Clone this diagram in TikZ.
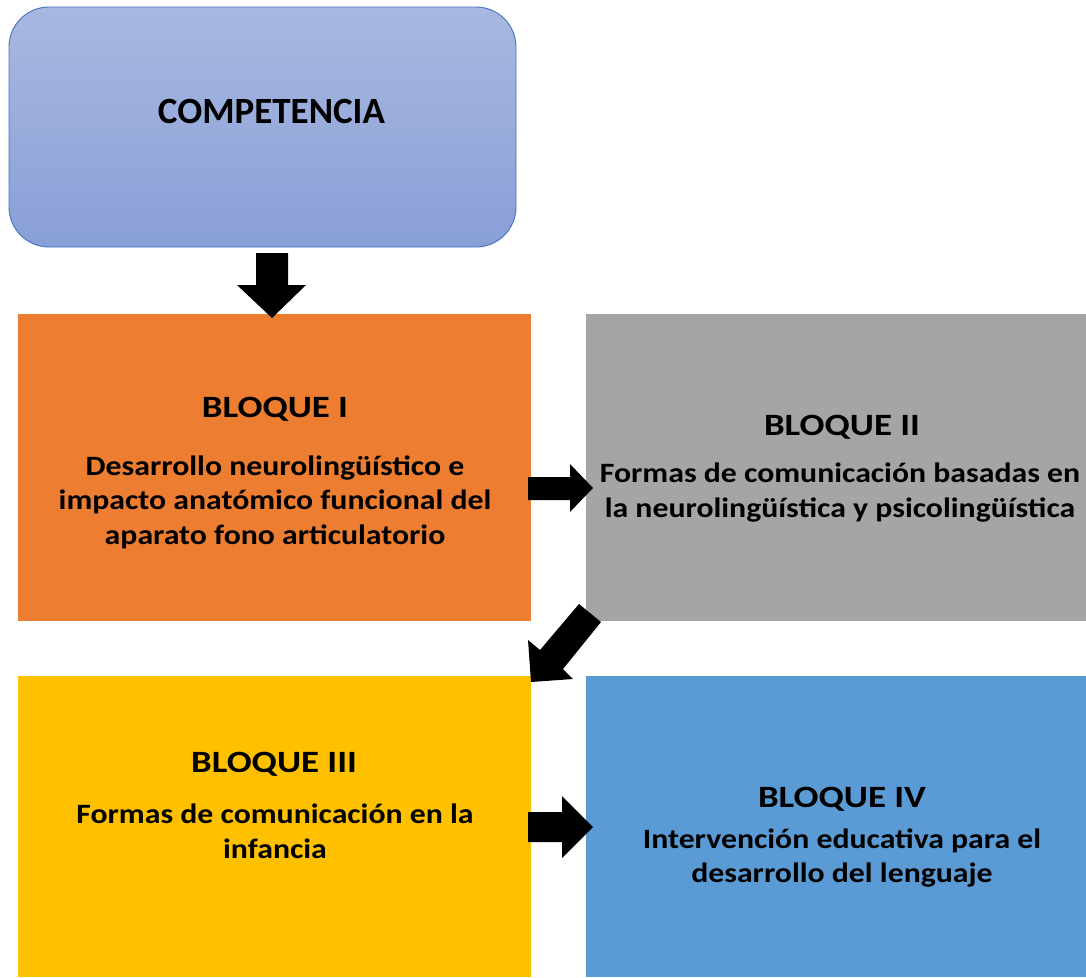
\documentclass[tikz,border=0pt]{standalone}
\usepackage{fontspec}
\setmainfont{Carlito}
\newfontfamily\titlefnt{Carlito}[FakeStretch=1.19]
\newfontfamily\bodyfnt{Carlito}[FakeStretch=1.135]
\definecolor{topA}{HTML}{A9B8E0}
\definecolor{topB}{HTML}{889FD7}
\definecolor{topLine}{HTML}{4472C4}
\definecolor{orangeB}{HTML}{ED7D31}
\definecolor{grayB}{HTML}{A5A5A5}
\definecolor{yellowB}{HTML}{FFC000}
\definecolor{blueB}{HTML}{5B9BD5}
\tikzset{
  blockbox/.style={rectangle, inner sep=0pt, draw=none},
  titletext/.style={anchor=base, inner sep=0pt, font=\titlefnt\fontsize{31}{38}\selectfont\bfseries},
  bodytext/.style={anchor=base, inner sep=0pt, align=center, font=\bodyfnt\fontsize{28}{34.5}\selectfont\bfseries},
  blockarrow/.style={fill=black, draw=none}
}
\begin{document}
\begin{tikzpicture}[x=1pt,y=-1pt]
\useasboundingbox (0,0) rectangle (1086,977);
% top box
\node[rectangle, rounded corners=40pt, minimum width=507pt, minimum height=240pt, inner sep=0pt,
  top color=topA, bottom color=topB, draw=topLine, line width=0.9pt] (comp) at (262.5,127) {};
\node[anchor=base, inner sep=0pt, font=\fontsize{37}{44}\selectfont\bfseries] (compt) at (271.5,123) {COMPETENCIA};
% blocks
\node[blockbox, fill=orangeB, minimum width=513pt, minimum height=307pt] (b1) at (274.5,467.5) {};
\node[blockbox, fill=grayB, minimum width=500pt, minimum height=307pt] (b2) at (836,467.5) {};
\node[blockbox, fill=yellowB, minimum width=513pt, minimum height=301pt] (b3) at (274.5,826.5) {};
\node[blockbox, fill=blueB, minimum width=500pt, minimum height=301pt] (b4) at (836,826.5) {};
% texts (multi-line nodes anchored at the baseline of their last line)
\node[titletext] (b1t) at (275,417) {BLOQUE I};
\node[bodytext] (b1b) at (275,544) {Desarrollo neurolingüístico e\\impacto anatómico funcional del\\aparato fono articulatorio};
\node[titletext] (b2t) at (842,435) {BLOQUE II};
\node[bodytext] (b2b) at (840,517) {Formas de comunicación basadas en\\la neurolingüística y psicolingüística};
\node[titletext] (b3t) at (274,772) {BLOQUE III};
\node[bodytext] (b3b) at (275,858) {Formas de comunicación en la\\infancia};
\node[titletext] (b4t) at (842,807) {BLOQUE IV};
\node[bodytext] (b4b) at (842,882.5) {Intervención educativa para el\\desarrollo del lenguaje};
% arrows
\fill[blockarrow] (256,253) -- (288,253) -- (288,285) -- (306,285) -- (272,318) -- (237,285) -- (256,285) -- cycle;
\fill[blockarrow] (528,477) -- (570,477) -- (570,464) -- (593,488) -- (570,512) -- (570,500) -- (528,500) -- cycle;
\fill[blockarrow] (579,604) -- (601,622) -- (563,669) -- (573,679) -- (531,682) -- (528,640) -- (540,650) -- cycle;
\fill[blockarrow] (528,812) -- (562,812) -- (562,796) -- (593,827) -- (562,858) -- (562,842) -- (528,842) -- cycle;
\end{tikzpicture}
\end{document}
